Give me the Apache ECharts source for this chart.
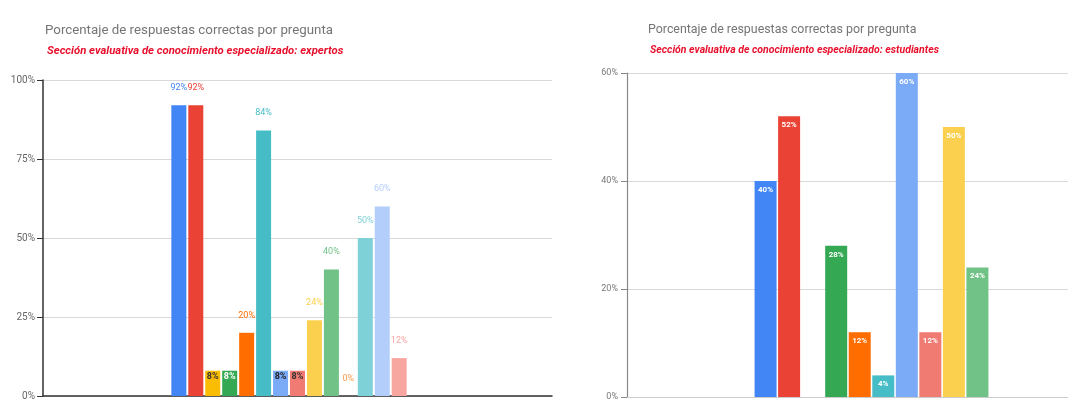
<!DOCTYPE html>
<html>
<head>
<meta charset="utf-8">
<script src="https://cdn.jsdelivr.net/npm/echarts@6/dist/echarts.min.js"></script>
<style>
html,body{margin:0;padding:0;background:#fff;}
#c{width:1068px;height:417px;}
</style>
</head>
<body>
<div id="c"></div>
<script>
// ---- data ----
const titleText = 'Porcentaje de respuestas correctas por pregunta';
const leftSubtitle = 'Sección evaluativa de conocimiento especializado: expertos';
const rightSubtitle = 'Sección evaluativa de conocimiento especializado: estudiantes';
const leftValues = [92, 92, 8, 8, 20, 84, 8, 8, 24, 40, 0, 50, 60, 12];
const rightValues = [40, 52, 0, 28, 12, 4, 60, 12, 50, 24];
const leftTicks = [0, 25, 50, 75, 100];
const rightTicks = [0, 20, 40, 60];

// ---- style ----
const palette = ['#4285F4', '#EA4335', '#FBBC04', '#34A853', '#FF6D01', '#46BDC6', '#7BAAF7', '#F07B72', '#FCD04F', '#71C287', '#FF994D', '#7ED1D7', '#B3CEFB', '#F7A7A0'];
const insideTextColor = ['#fff', '#fff', '#333', '#fff', '#fff', '#fff', '#222', '#333', '#333', '#fff', '#333', '#333', '#333', '#333'];
const font = 'Roboto, "Liberation Sans", Arial, sans-serif';

const series = [];
leftValues.forEach((v, i) => {
  const inside = v > 0 && v < 10;
  series.push({
    type: 'bar', xAxisIndex: 0, yAxisIndex: 0,
    data: [v], barWidth: 15, barGap: '13%',
    itemStyle: { color: palette[i] },
    label: {
      show: true,
      position: inside ? 'insideTop' : 'top',
      distance: inside ? 2 : 13,
      formatter: '{c}%',
      fontSize: 9, fontFamily: font, fontWeight: inside ? 'bold' : 'normal',
      color: inside ? insideTextColor[i] : palette[i]
    },
    silent: true
  });
});
// empty spacer slot after the last group member (as in the original layout)
series.push({ type: 'bar', xAxisIndex: 0, yAxisIndex: 0, data: [null], barWidth: 15, barGap: '13%', silent: true });

rightValues.forEach((v, i) => {
  series.push({
    type: 'bar', xAxisIndex: 1, yAxisIndex: 1,
    data: [v], barWidth: 22, barGap: '7%',
    itemStyle: { color: palette[i] },
    label: {
      show: true, position: 'insideTop', distance: 5,
      formatter: p => p.value ? p.value + '%' : '',
      fontSize: 8, fontFamily: font, fontWeight: 'bold', color: '#fff'
    },
    silent: true
  });
});

const chart = echarts.init(document.getElementById('c'), null, { renderer: 'canvas' });
chart.setOption({
  animation: false,
  backgroundColor: '#fff',
  title: [
    { text: titleText, left: 40, top: 19, textStyle: { fontSize: 13.3, fontWeight: 'normal', color: '#757575', fontFamily: font } },
    { text: leftSubtitle, left: 42, top: 41, textStyle: { fontSize: 11.3, fontWeight: 'bold', fontStyle: 'italic', color: '#E8112D', fontFamily: font } },
    { text: titleText, left: 643, top: 19, textStyle: { fontSize: 12.4, fontWeight: 'normal', color: '#757575', fontFamily: font } },
    { text: rightSubtitle, left: 645, top: 40, textStyle: { fontSize: 10.5, fontWeight: 'bold', fontStyle: 'italic', color: '#E8112D', fontFamily: font } }
  ],
  grid: [
    { left: 43, right: 1068 - 552, top: 80, bottom: 21 },
    { left: 627, width: 489, top: 73, bottom: 20, outerBoundsMode: 'none' }
  ],
  xAxis: [
    { type: 'category', gridIndex: 0, data: [''], axisTick: { show: false }, axisLabel: { show: false },
      axisLine: { lineStyle: { color: '#333', width: 1.5 } } },
    { type: 'category', gridIndex: 1, data: [''], axisTick: { show: false }, axisLabel: { show: false },
      axisLine: { lineStyle: { color: '#ccc', width: 1 } } }
  ],
  yAxis: [
    { type: 'value', gridIndex: 0, min: leftTicks[0], max: leftTicks[leftTicks.length - 1], interval: leftTicks[1] - leftTicks[0],
      axisLine: { show: true, lineStyle: { color: '#333', width: 1.5 } },
      axisTick: { show: true, length: 6, lineStyle: { color: '#333' } },
      axisLabel: { formatter: '{value}%', fontSize: 10, color: '#666', fontFamily: font, margin: 8 },
      splitLine: { lineStyle: { color: '#d9d9d9' } } },
    { type: 'value', gridIndex: 1, min: rightTicks[0], max: rightTicks[rightTicks.length - 1], interval: rightTicks[1] - rightTicks[0],
      axisLine: { show: true, lineStyle: { color: '#888', width: 1.2 } },
      axisTick: { show: true, length: 6, lineStyle: { color: '#888' } },
      axisLabel: { formatter: '{value}%', fontSize: 9, color: '#777', fontFamily: font, margin: 9 },
      splitLine: { lineStyle: { color: '#d9d9d9' } } }
  ],
  series: series
});
</script>
</body>
</html>
